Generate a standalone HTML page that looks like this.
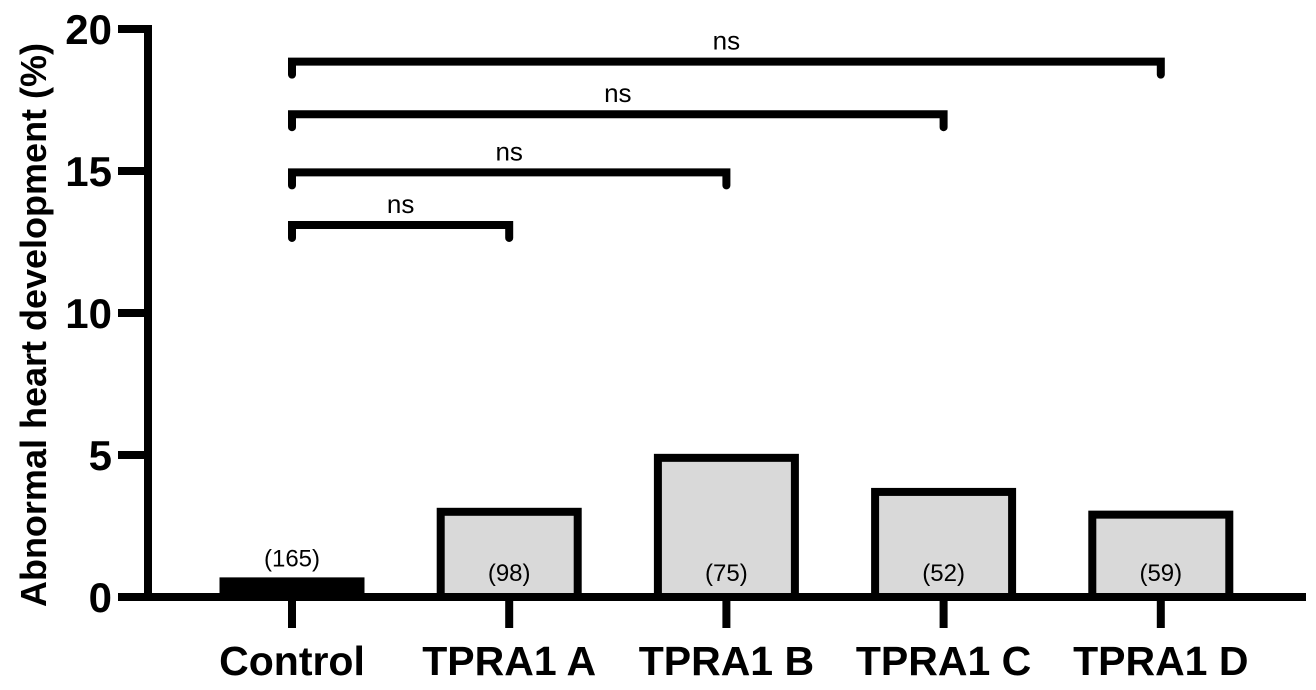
<!DOCTYPE html>
<html><head><meta charset="utf-8"><style>
html,body{margin:0;padding:0;background:#fff;}
svg{display:block;font-family:"Liberation Sans",Arial,sans-serif;}
</style></head><body>
<svg id="chart" width="1316" height="690"></svg>
<script>
const categories = ["Control","TPRA1 A","TPRA1 B","TPRA1 C","TPRA1 D"];
const values = [0.55, 3.0, 4.9, 3.7, 2.9];
const counts = ["(165)","(98)","(75)","(52)","(59)"];
const yTicks = [0,5,10,15,20];
const bracketTargets = [1,2,3,4];
const bracketHeights = [13.1,14.95,17.0,18.85];
const bracketLabels = ["ns","ns","ns","ns"];

const NS="http://www.w3.org/2000/svg";
const svg=document.getElementById('chart');
const x0=148, y0=597, pxPer=28.4;
const y=v=>y0-v*pxPer;
const xc=i=>292+i*217.2;
function el(t,a,p){const e=document.createElementNS(NS,t);for(const k in a)e.setAttribute(k,a[k]);(p||svg).appendChild(e);return e;}

values.forEach((v,i)=>{
  const r=el('rect',{x:xc(i)-68.5,y:y(v),width:137,height:y0-y(v),fill:i===0?'#000':'#d9d9d9',stroke:'#000','stroke-width':8});
  
  
  const t=el('text',{x:xc(i),y:i===0?y(v)-15:y0-16,'text-anchor':'middle','font-size':24,fill:'#000'});
  t.textContent=counts[i];
  
  
});
const ya=el('line',{x1:x0,y1:y(20)-4,x2:x0,y2:y0+4,stroke:'#000','stroke-width':8});


const xa=el('line',{x1:x0-4,y1:y0,x2:1306,y2:y0,stroke:'#000','stroke-width':8});


yTicks.forEach(v=>{
  const l=el('line',{x1:118,y1:y(v),x2:x0,y2:y(v),stroke:'#000','stroke-width':8});
  
  
  const t=el('text',{x:112,y:y(v)+15,'text-anchor':'end','font-size':42,'font-weight':'bold'});
  t.textContent=v;
  
  
});
categories.forEach((c,i)=>{
  const l=el('line',{x1:xc(i),y1:y0,x2:xc(i),y2:628,stroke:'#000','stroke-width':8});
  
  
  const t=el('text',{x:xc(i),y:675,'text-anchor':'middle','font-size':41,'font-weight':'bold'});
  t.textContent=c;
  
  
});
const yt=el('text',{x:0,y:0,transform:'translate(46,325) rotate(-90)','text-anchor':'middle','font-size':36,'font-weight':'bold'});
yt.textContent='Abnormal heart development (%)';


bracketTargets.forEach((j,k)=>{
  const by=y(bracketHeights[k]);
  const p=el('path',{d:`M${xc(0)},${by+13} V${by} H${xc(j)} V${by+13}`,fill:'none',stroke:'#000','stroke-width':8,'stroke-linecap':'round','stroke-linejoin':'miter'});
  
  
  const t=el('text',{x:(xc(0)+xc(j))/2,y:by-12,'text-anchor':'middle','font-size':26});
  t.textContent=bracketLabels[k];
  
  
});
</script>
</body></html>
